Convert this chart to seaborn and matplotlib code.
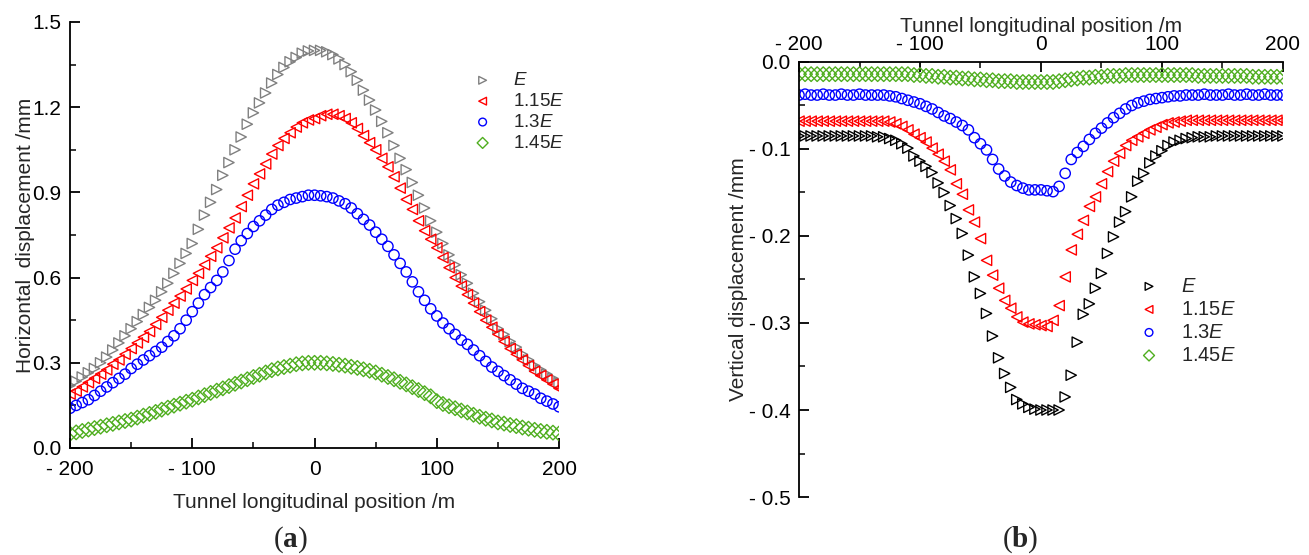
import numpy as np
import pandas as pd
import matplotlib
matplotlib.use("Agg")
import matplotlib.pyplot as plt
import seaborn as sns
from matplotlib.ticker import MultipleLocator, FuncFormatter

# positions along the tunnel (m)
pos = list(range(-200, 205, 5))

# (a) horizontal displacement (mm)
h_E = [0.22, 0.235, 0.25, 0.265, 0.28, 0.30, 0.32, 0.345, 0.37, 0.395,
       0.42, 0.445, 0.47, 0.495, 0.52, 0.55, 0.58, 0.615, 0.65, 0.685,
       0.72, 0.77, 0.82, 0.865, 0.91, 0.96, 1.005, 1.05, 1.095, 1.14,
       1.18, 1.215, 1.25, 1.285, 1.315, 1.34, 1.36, 1.375, 1.39, 1.398,
       1.40, 1.40, 1.395, 1.385, 1.37, 1.35, 1.325, 1.295, 1.26, 1.225,
       1.19, 1.15, 1.11, 1.065, 1.02, 0.98, 0.935, 0.89, 0.845, 0.80,
       0.76, 0.72, 0.68, 0.645, 0.61, 0.58, 0.545, 0.515, 0.485, 0.455,
       0.42, 0.40, 0.375, 0.355, 0.33, 0.31, 0.29, 0.275, 0.26, 0.245, 0.23]
h_115E = [0.19, 0.20, 0.215, 0.23, 0.245, 0.26, 0.275, 0.295, 0.31, 0.33,
          0.35, 0.37, 0.39, 0.41, 0.435, 0.46, 0.485, 0.51, 0.535, 0.56,
          0.59, 0.615, 0.645, 0.675, 0.705, 0.74, 0.775, 0.81, 0.85, 0.89,
          0.93, 0.965, 1.00, 1.035, 1.065, 1.09, 1.11, 1.13, 1.145, 1.155,
          1.16, 1.17, 1.175, 1.175, 1.17, 1.16, 1.145, 1.125, 1.10, 1.075,
          1.05, 1.02, 0.99, 0.955, 0.915, 0.875, 0.84, 0.80, 0.765, 0.735,
          0.705, 0.67, 0.635, 0.60, 0.57, 0.54, 0.51, 0.48, 0.45, 0.425,
          0.40, 0.375, 0.35, 0.33, 0.31, 0.29, 0.27, 0.255, 0.24, 0.225, 0.21]
h_13E = [0.14, 0.15, 0.16, 0.17, 0.185, 0.20, 0.215, 0.23, 0.245, 0.26,
         0.28, 0.295, 0.31, 0.325, 0.34, 0.355, 0.375, 0.395, 0.42, 0.45,
         0.48, 0.51, 0.54, 0.565, 0.59, 0.62, 0.66, 0.70, 0.73, 0.755,
         0.78, 0.80, 0.82, 0.84, 0.855, 0.865, 0.875, 0.88, 0.885, 0.89,
         0.89, 0.888, 0.885, 0.88, 0.87, 0.86, 0.845, 0.825, 0.805, 0.785,
         0.76, 0.735, 0.71, 0.68, 0.65, 0.62, 0.585, 0.55, 0.52, 0.49,
         0.465, 0.44, 0.42, 0.40, 0.38, 0.365, 0.345, 0.325, 0.305, 0.285,
         0.27, 0.255, 0.24, 0.225, 0.21, 0.20, 0.19, 0.175, 0.165, 0.155, 0.145]
h_145E = [0.05, 0.055, 0.06, 0.065, 0.07, 0.075, 0.08, 0.085, 0.09, 0.095,
          0.10, 0.107, 0.114, 0.12, 0.127, 0.135, 0.142, 0.149, 0.156, 0.163,
          0.17, 0.178, 0.186, 0.194, 0.202, 0.21, 0.218, 0.226, 0.234, 0.242,
          0.25, 0.258, 0.266, 0.274, 0.28, 0.285, 0.29, 0.295, 0.298, 0.30,
          0.30, 0.30, 0.298, 0.296, 0.293, 0.29, 0.286, 0.282, 0.277, 0.272,
          0.266, 0.258, 0.25, 0.242, 0.233, 0.224, 0.214, 0.204, 0.193, 0.182,
          0.165, 0.155, 0.147, 0.14, 0.132, 0.125, 0.117, 0.11, 0.103, 0.097,
          0.09, 0.086, 0.081, 0.077, 0.072, 0.068, 0.064, 0.06, 0.057, 0.054, 0.051]

# (b) vertical displacement (mm)
v_E = [-0.085, -0.085, -0.085, -0.085, -0.085, -0.085, -0.085, -0.085, -0.085, -0.085,
       -0.085, -0.085, -0.085, -0.086, -0.086, -0.088, -0.090, -0.094, -0.099, -0.108,
       -0.114, -0.120, -0.127, -0.139, -0.150, -0.165, -0.180, -0.197, -0.222, -0.247,
       -0.266, -0.289, -0.315, -0.340, -0.358, -0.374, -0.388, -0.393, -0.397, -0.399,
       -0.400, -0.400, -0.400, -0.400, -0.385, -0.360, -0.322, -0.290, -0.278, -0.260,
       -0.243, -0.220, -0.201, -0.184, -0.172, -0.155, -0.137, -0.128, -0.116, -0.108,
       -0.102, -0.096, -0.092, -0.090, -0.088, -0.087, -0.086, -0.086, -0.086, -0.085,
       -0.085, -0.085, -0.085, -0.085, -0.085, -0.085, -0.085, -0.085, -0.085, -0.085, -0.085]
v_115E = [-0.068, -0.068, -0.068, -0.068, -0.068, -0.068, -0.068, -0.068, -0.068, -0.068,
          -0.068, -0.068, -0.068, -0.068, -0.068, -0.069, -0.071, -0.074, -0.078, -0.083,
          -0.087, -0.092, -0.099, -0.106, -0.114, -0.124, -0.140, -0.152, -0.170, -0.184,
          -0.203, -0.228, -0.245, -0.260, -0.274, -0.283, -0.293, -0.299, -0.301, -0.302,
          -0.303, -0.304, -0.297, -0.280, -0.247, -0.216, -0.198, -0.182, -0.166, -0.155,
          -0.140, -0.126, -0.114, -0.105, -0.096, -0.090, -0.086, -0.082, -0.078, -0.075,
          -0.072, -0.070, -0.069, -0.068, -0.067, -0.067, -0.067, -0.067, -0.067, -0.067,
          -0.067, -0.067, -0.067, -0.067, -0.067, -0.067, -0.067, -0.067, -0.067, -0.067, -0.067]
v_13E = [-0.038, -0.037, -0.038, -0.038, -0.037, -0.038, -0.038, -0.037, -0.038, -0.038,
         -0.037, -0.038, -0.038, -0.038, -0.038, -0.039, -0.040, -0.042, -0.044, -0.046,
         -0.048, -0.051, -0.054, -0.058, -0.062, -0.065, -0.069, -0.073, -0.078, -0.087,
         -0.094, -0.101, -0.112, -0.123, -0.131, -0.138, -0.142, -0.145, -0.147, -0.147,
         -0.147, -0.148, -0.149, -0.143, -0.128, -0.112, -0.104, -0.097, -0.089, -0.082,
         -0.076, -0.070, -0.064, -0.059, -0.054, -0.050, -0.047, -0.045, -0.043, -0.042,
         -0.041, -0.040, -0.039, -0.039, -0.038, -0.038, -0.038, -0.037, -0.038, -0.038,
         -0.038, -0.037, -0.038, -0.038, -0.037, -0.038, -0.038, -0.037, -0.038, -0.038, -0.038]
v_145E = [-0.014, -0.014, -0.014, -0.014, -0.014, -0.014, -0.014, -0.014, -0.014, -0.014,
          -0.014, -0.014, -0.014, -0.014, -0.014, -0.014, -0.014, -0.014, -0.014, -0.015,
          -0.015, -0.016, -0.016, -0.017, -0.017, -0.018, -0.018, -0.019, -0.019, -0.020,
          -0.020, -0.021, -0.021, -0.022, -0.022, -0.022, -0.023, -0.023, -0.023, -0.023,
          -0.023, -0.023, -0.023, -0.022, -0.021, -0.020, -0.019, -0.018, -0.018, -0.017,
          -0.017, -0.016, -0.016, -0.016, -0.015, -0.015, -0.015, -0.015, -0.015, -0.015,
          -0.015, -0.015, -0.015, -0.015, -0.015, -0.015, -0.016, -0.016, -0.016, -0.016,
          -0.016, -0.016, -0.016, -0.016, -0.016, -0.017, -0.017, -0.017, -0.017, -0.017, -0.017]

labels = ['$E$', '1.15$E$', '1.3$E$', '1.45$E$']
markers = ['>', '<', 'o', 'D']
colors_a = ['#808080', '#ff0000', '#0000ff', '#4fae1f']
colors_b = ['#000000', '#ff0000', '#0000ff', '#4fae1f']

sns.set_style('ticks')
plt.rcParams['font.family'] = ['Liberation Sans', 'DejaVu Sans']
plt.rcParams['mathtext.fontset'] = 'custom'
plt.rcParams['mathtext.it'] = 'Liberation Sans:italic'
plt.rcParams['mathtext.rm'] = 'Liberation Sans'
plt.rcParams['mathtext.bf'] = 'Liberation Serif:bold'


def fmt_neg(dec):
    def f(v, p):
        if abs(v) < 1e-9:
            return f"{0:.{dec}f}"
        s = f"{abs(v):.{dec}f}"
        return ("- " + s) if v < 0 else s
    return FuncFormatter(f)


def draw(ax, series, colors):
    for vals, lab, m, c in zip(series, labels, markers, colors):
        df = pd.DataFrame({'x': pos, 'y': vals})
        sns.scatterplot(data=df, x='x', y='y', marker=m, s=55, color=c,
                        facecolor='none', edgecolor=c, linewidth=1.0,
                        label=lab, ax=ax, legend=False)


fig = plt.figure(figsize=(13.09, 5.55), dpi=100)

# ---- (a)
ax1 = fig.add_axes([0.0535, 0.1928, 0.3736, 0.7676])
draw(ax1, [h_E, h_115E, h_13E, h_145E], colors_a)
ax1.set_xlim(-200, 200)
ax1.set_ylim(0, 1.5)
ax1.xaxis.set_major_locator(MultipleLocator(100))
ax1.xaxis.set_minor_locator(MultipleLocator(50))
ax1.yaxis.set_major_locator(MultipleLocator(0.3))
ax1.yaxis.set_minor_locator(MultipleLocator(0.15))
ax1.xaxis.set_major_formatter(fmt_neg(0))
ax1.yaxis.set_major_formatter(fmt_neg(1))
for s in ['top', 'right']:
    ax1.spines[s].set_visible(False)
ax1.set_xlabel('Tunnel longitudinal position /m', fontsize=15, labelpad=10)
ax1.set_ylabel('Horizontal  displacement /mm', fontsize=15, labelpad=-2)
ax1.legend(loc='upper left', bbox_to_anchor=(0.79, 0.90), frameon=False,
           fontsize=13.5, markerscale=0.75, handletextpad=0.6,
           labelspacing=0.2, borderaxespad=0)

# ---- (b)
ax2 = fig.add_axes([0.6104, 0.1045, 0.3697, 0.7838])
draw(ax2, [v_E, v_115E, v_13E, v_145E], colors_b)
ax2.set_xlim(-200, 200)
ax2.set_ylim(-0.5, 0)
ax2.xaxis.tick_top()
ax2.xaxis.set_label_position('top')
ax2.xaxis.set_major_locator(MultipleLocator(100))
ax2.xaxis.set_minor_locator(MultipleLocator(50))
ax2.yaxis.set_major_locator(MultipleLocator(0.1))
ax2.yaxis.set_minor_locator(MultipleLocator(0.05))
ax2.xaxis.set_major_formatter(fmt_neg(0))
ax2.yaxis.set_major_formatter(fmt_neg(1))
for s in ['bottom', 'right']:
    ax2.spines[s].set_visible(False)
ax2.spines['top'].set_visible(True)
ax2.set_xlabel('Tunnel longitudinal position /m', fontsize=15, labelpad=2)
ax2.set_ylabel('Vertical displacement /mm', fontsize=15, labelpad=1)
ax2.legend(loc='upper left', bbox_to_anchor=(0.665, 0.525), frameon=False,
           fontsize=14.5, markerscale=0.75, handletextpad=0.6,
           labelspacing=0.2, borderaxespad=0)

for ax in (ax1, ax2):
    for s in ax.spines.values():
        s.set_linewidth(1.3)
        s.set_color('black')
    ax.tick_params(which='major', direction='in', length=7, width=1.3,
                   labelsize=15, colors='black', pad=6)
    ax.tick_params(which='minor', direction='in', length=4, width=1.3)
ax1.tick_params(axis='x', which='major', pad=9)
ax2.tick_params(which='both', top=True, bottom=False, labeltop=True, labelbottom=False)

fig.text(0.2215, 0.027, r'($\mathbf{a}$)', fontsize=21, ha='center', va='center',
         family='Liberation Serif')
fig.text(0.779, 0.027, r'($\mathbf{b}$)', fontsize=21, ha='center', va='center',
         family='Liberation Serif')

fig.savefig('out.png', dpi=100)
